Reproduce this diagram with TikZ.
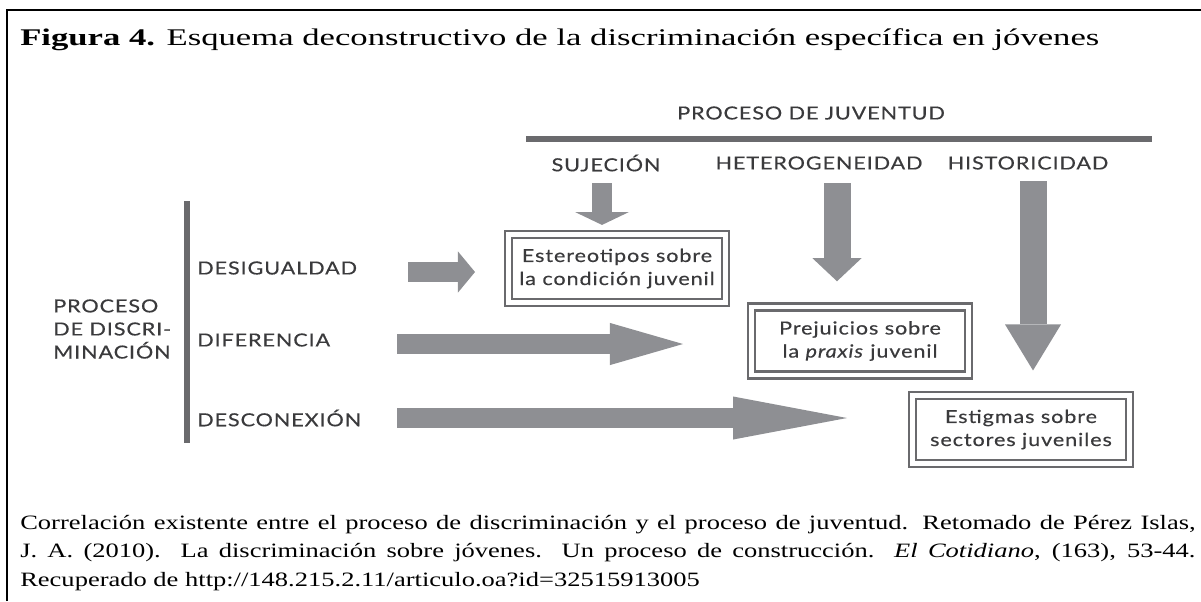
\documentclass[tikz,border=0pt]{standalone}
\usepackage{fontspec}
\setmainfont{Liberation Serif}
\newfontfamily\titlefont{Liberation Serif}[FakeStretch=1.45]
\newfontfamily\capfont{Liberation Serif}[FakeStretch=1.3]
\newfontfamily\gill{Lato}[FakeStretch=1.2,LetterSpace=5,FakeBold=0.4]
\usetikzlibrary{arrows.meta,positioning}
\definecolor{arrowgray}{HTML}{8E8F93}
\definecolor{bargray}{HTML}{6A6A6D}
\definecolor{labelgray}{HTML}{3A3A3C}

\begin{document}
\begin{tikzpicture}[x=0.025cm,y=-0.025cm,
  lbl/.style={font=\gill\fontsize{12.8}{16.4}\selectfont,text=labelgray,inner sep=0pt},
  box/.style={lbl,align=center,draw=bargray,line width=1.6pt,double=white,double distance=3.4pt,
    minimum width=5.42cm,minimum height=1.7cm},
  bar/.style={draw=bargray,line width=3.6pt},
  blk/.style={draw=arrowgray,line width=#1}]
\useasboundingbox (0,0) rectangle (1201,601);
\draw[line width=1.4pt] (7,601) -- (7,10) -- (1201,10);
\node[anchor=base west,inner sep=0pt,font=\titlefont\fontsize{17}{20}\selectfont] (title) at (20,45)
  {\textbf{Figura 4.} Esquema deconstructivo de la discriminación específica en jóvenes};

\node[lbl] (pjuv) at (811,113) {PROCESO DE JUVENTUD};
\draw[bar] (526,139) -- (1152,139);
\node[lbl] (suj) at (606,163) {SUJECIÓN};
\node[lbl] (het) at (819,163) {HETEROGENEIDAD};
\node[lbl] (his) at (1028,163) {HISTORICIDAD};

\node[lbl,align=left,anchor=west] (pdisc) at (53,329) {PROCESO\\DE DISCRI-\\MINACIÓN};
\draw[bar] (187,201) -- (187,443);
\node[lbl,anchor=west] (deg) at (197,268) {DESIGUALDAD};
\node[lbl,anchor=west] (dif) at (197,340) {DIFERENCIA};
\node[lbl,anchor=west] (dsc) at (197,418) {DESCONEXIÓN};

\node[box] (este) at (617,268.5) {Estereotipos sobre\\la condición juvenil};
\node[box] (prej) at (860,341) {Prejuicios sobre\\la \textit{praxis} juvenil};
\node[box] (estig) at (1021,429.5) {Estigmas sobre\\sectores juveniles};

\coordinate (suj-a) at (602,183);
\coordinate (het-a) at (837,183);
\coordinate (his-a) at (1033,181);
\coordinate (deg-a) at (408,272);
\coordinate (deg-b) at (475,272);
\coordinate (dif-a) at (397,344);
\coordinate (dif-b) at (683,344);
\coordinate (dsc-a) at (397,418);
\coordinate (dsc-b) at (847,418);

\draw[blk=14.2pt,-{Triangle[width=38.4pt,length=9.2pt,line width=0pt]},shorten >=6pt] (suj-a) -- (suj-a |- este.north);
\draw[blk=19.2pt,-{Triangle[width=34.9pt,length=16.4pt,line width=0pt]},shorten >=17.5pt] (het-a) -- (het-a |- prej.north);
\draw[blk=19.2pt,-{Triangle[width=39.8pt,length=32.7pt,line width=0pt]},shorten >=17pt] (his-a) -- (his-a |- estig.north);
\draw[blk=14.2pt,-{Triangle[width=29.2pt,length=12.1pt,line width=0pt]}] (deg-a) -- (deg-b);
\draw[blk=14.9pt,-{Triangle[width=30pt,length=52pt,line width=0pt]}] (dif-a) -- (dif-b);
\draw[blk=14.9pt,-{Triangle[width=30.6pt,length=81pt,line width=0pt]}] (dsc-a) -- (dsc-b);

\node[anchor=base west,inner sep=0pt,text width=29.375cm,align=justify,
  font=\capfont\fontsize{14.5}{20.6}\selectfont] (cap) at (20,529)
  {\hyphenpenalty=10000 Correlación existente entre el proceso de discriminación y el proceso de juventud. Retomado de Pérez Islas,\linebreak
   J. A. (2010). La discriminación sobre jóvenes. Un proceso de construcción. \textit{El Cotidiano}, (163), 53-44.\linebreak
   Recuperado de http://148.215.2.11/articulo.oa?id=32515913005};
\end{tikzpicture}
\end{document}
